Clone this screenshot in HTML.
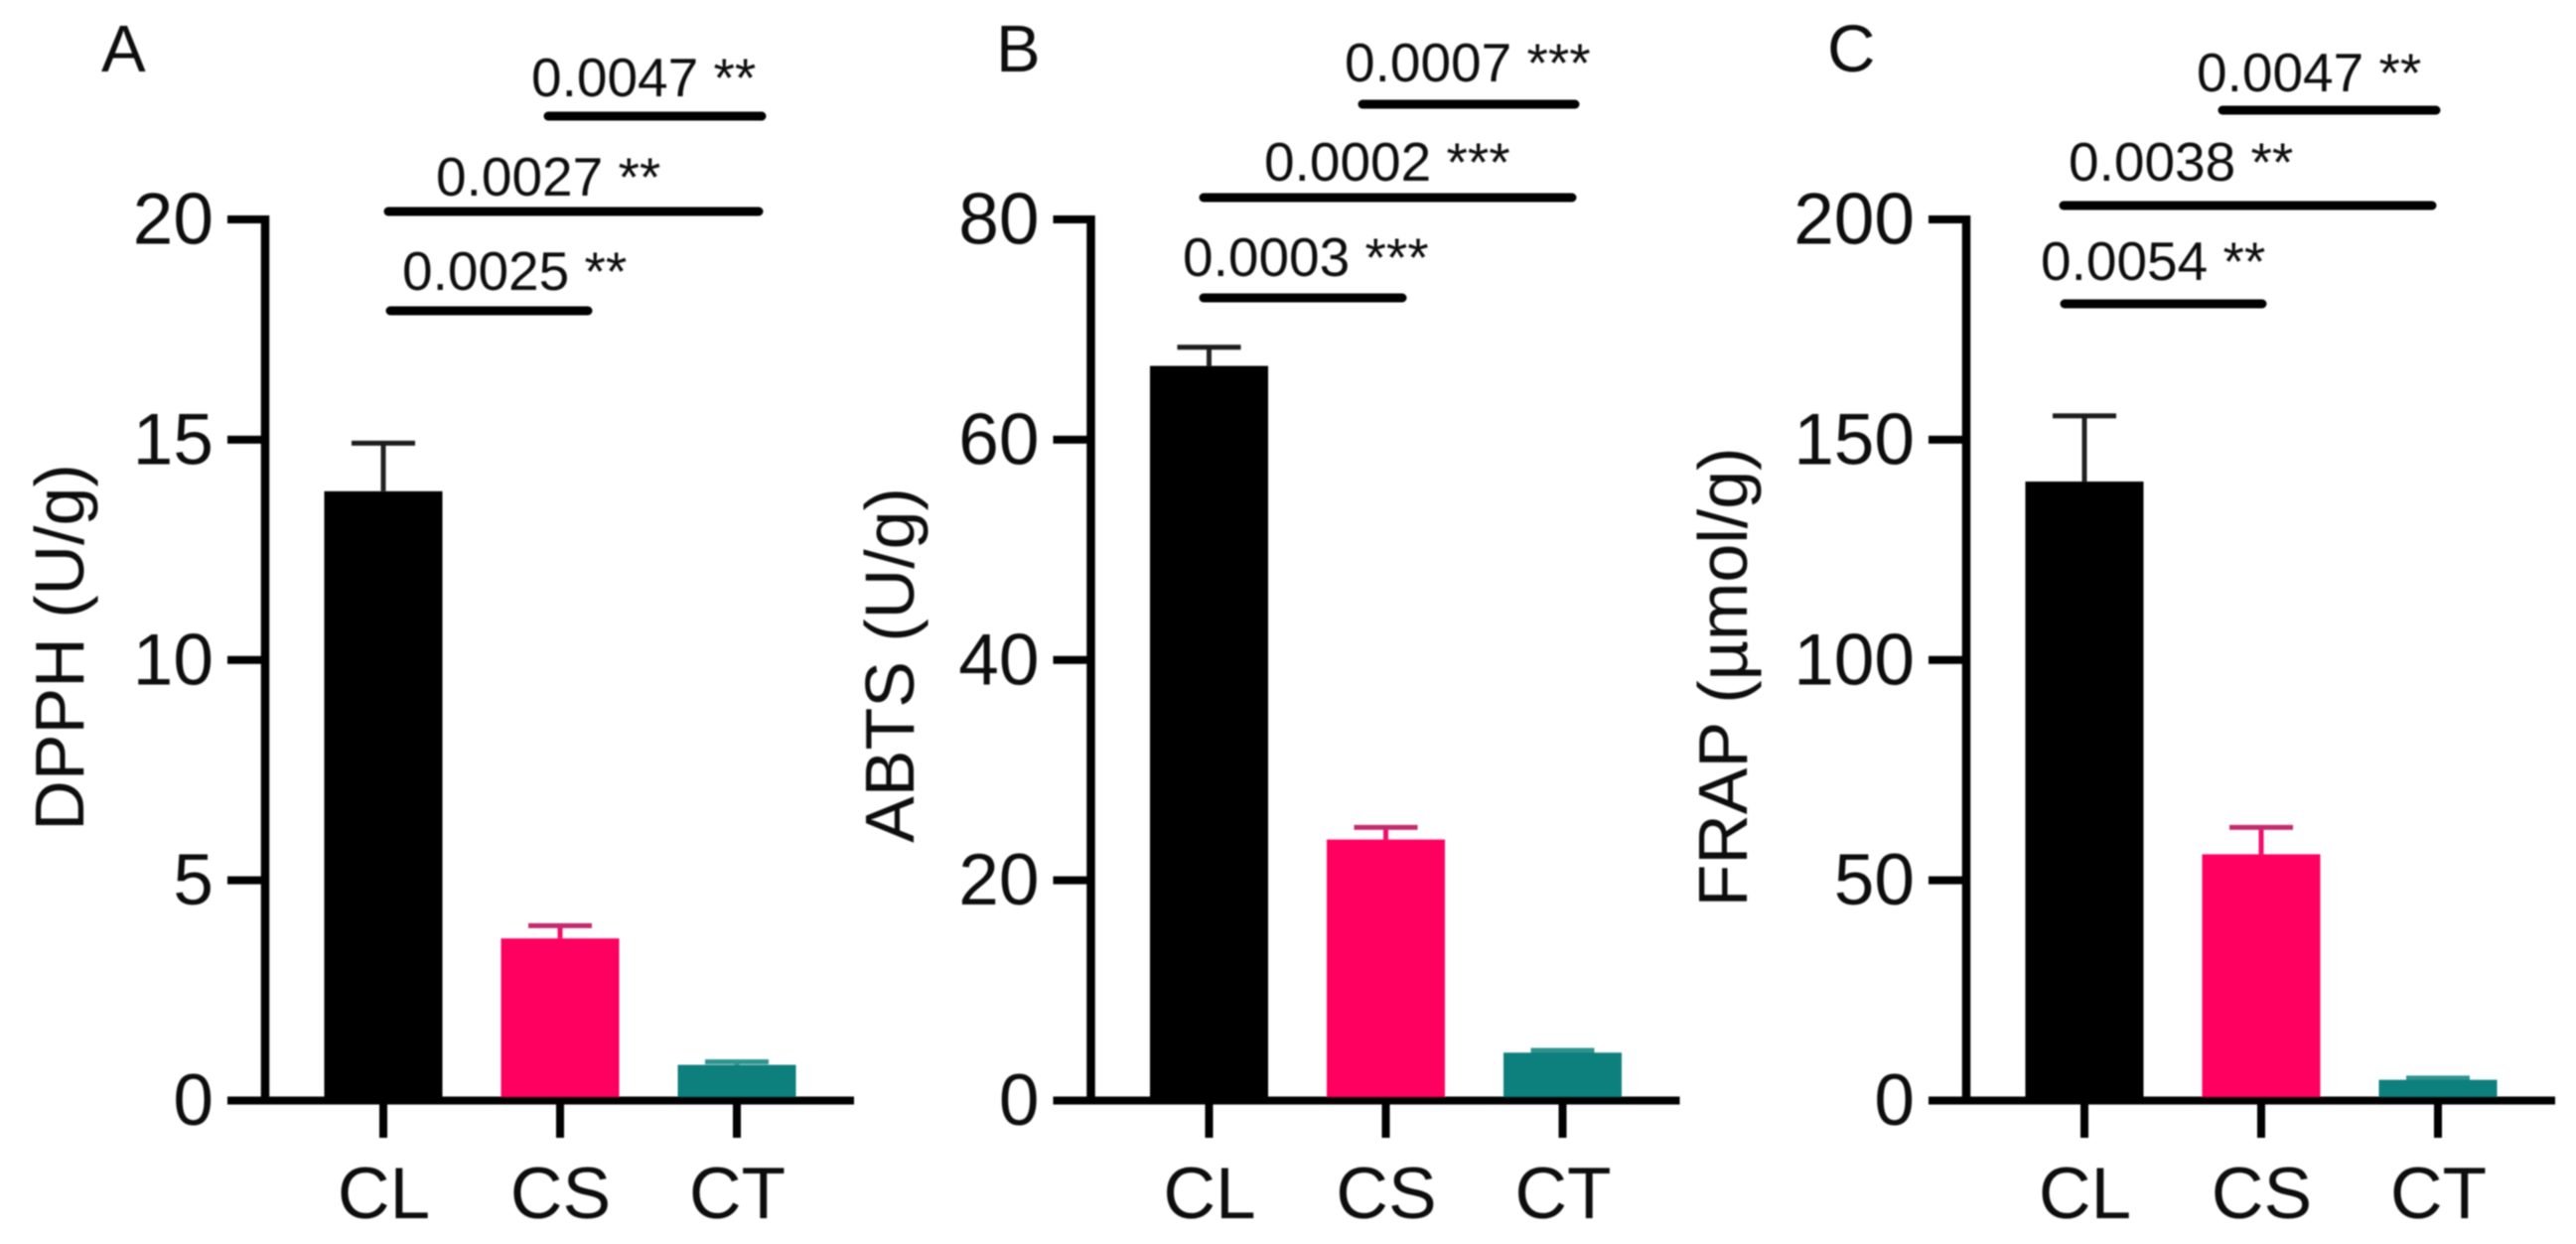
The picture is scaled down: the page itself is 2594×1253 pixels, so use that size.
<!DOCTYPE html>
<html lang="en">
<head>
<meta charset="utf-8">
<title>DPPH, ABTS and FRAP antioxidant activity</title>
<style>
  html, body { margin: 0; padding: 0; background: #fff; }
  svg { display: block; }
  text { font-family: "Liberation Sans", Arial, sans-serif; fill: #111; }
  .sig { font-size: 55px; }
  .letter { font-size: 67px; }
  .ytitle { font-size: 70px; text-anchor: middle; }
  .bracket { stroke: #000; stroke-width: 9; stroke-linecap: round; }
</style>
</head>
<body>
<svg id="chart" width="2594" height="1253" viewBox="0 0 2594 1253" xmlns="http://www.w3.org/2000/svg">
  <defs>
    <filter id="soft" x="-2%" y="-2%" width="104%" height="104%"><feGaussianBlur stdDeviation="0.7"/></filter>
  </defs>
  <rect width="2594" height="1253" fill="#fff"/>
  <g id="plots" filter="url(#soft)">
    <text class="letter" x="102" y="72">A</text>
    <text class="letter" x="1003" y="72">B</text>
    <text class="letter" x="1840" y="72">C</text>

    <text class="ytitle" transform="translate(84,652) rotate(-90)">DPPH (U/g)</text>
    <text class="ytitle" transform="translate(920,670) rotate(-90)">ABTS (U/g)</text>
    <text class="ytitle" transform="translate(1759,682) rotate(-90)">FRAP (µmol/g)</text>

    <line class="bracket" x1="552" y1="117" x2="767" y2="117"/>
    <line class="bracket" x1="391" y1="213" x2="764" y2="213"/>
    <line class="bracket" x1="393" y1="313" x2="592" y2="313"/>
    <text class="sig" x="535" y="97">0.0047 **</text>
    <text class="sig" x="439" y="197">0.0027 **</text>
    <text class="sig" x="405" y="292">0.0025 **</text>

    <line class="bracket" x1="1372" y1="105" x2="1586" y2="105"/>
    <line class="bracket" x1="1212" y1="199" x2="1583" y2="199"/>
    <line class="bracket" x1="1212" y1="300" x2="1412" y2="300"/>
    <text class="sig" x="1354" y="82">0.0007 ***</text>
    <text class="sig" x="1273" y="182">0.0002 ***</text>
    <text class="sig" x="1191" y="278">0.0003 ***</text>

    <line class="bracket" x1="2238" y1="111" x2="2453" y2="111"/>
    <line class="bracket" x1="2078" y1="207" x2="2449" y2="207"/>
    <line class="bracket" x1="2079" y1="306" x2="2278" y2="306"/>
    <text class="sig" x="2212" y="92">0.0047 **</text>
    <text class="sig" x="2083" y="182">0.0038 **</text>
    <text class="sig" x="2055" y="282">0.0054 **</text>
  </g>
</svg>
<script>
const categories = ['CL', 'CS', 'CT'];
const dpphMeans = [13.83, 3.68, 0.81];
const dpphErrors = [1.09, 0.29, 0.07];
const dpphTicks = [0, 5, 10, 15, 20];
const abtsMeans = [66.7, 23.7, 4.35];
const abtsErrors = [1.7, 1.1, 0.2];
const abtsTicks = [0, 20, 40, 60, 80];
const frapMeans = [140.5, 55.9, 4.7];
const frapErrors = [14.9, 6.1, 0.4];
const frapTicks = [0, 50, 100, 150, 200];

const SVG_NS = 'http://www.w3.org/2000/svg';
const plots = document.getElementById('plots');
const barFills = ['#000000', '#ff0060', '#0f7f7c'];
const capStrokes = ['#1a1a1a', '#c22a6e', '#2f9490'];
const stemStrokes = ['#222222', '#f0106a', '#2f9490'];

function add(tag, attrs, parent) {
  const el = document.createElementNS(SVG_NS, tag);
  for (const key in attrs) el.setAttribute(key, attrs[key]);
  parent.appendChild(el);
  return el;
}

function drawPanel(id, axisX, means, errors, ticks) {
  const baseY = 1108.5;
  const topY = 221;
  const yMax = ticks[ticks.length - 1];
  const yScale = function (v) { return baseY - (v / yMax) * (baseY - topY); };
  const xScale = function (i) { return axisX + 119 + i * 178; };
  const barWidth = 119;

  const group = add('g', {}, plots);
  
  

  means.forEach(function (value, i) {
    const cx = xScale(i);
    const top = yScale(value);
    const errTop = yScale(value + errors[i]);

    const stem = add('line', { x1: cx, x2: cx, y1: top, y2: errTop, stroke: stemStrokes[i], 'stroke-width': 5 }, group);
    
    

    const cap = add('line', { x1: cx - 32, x2: cx + 32, y1: errTop, y2: errTop, stroke: capStrokes[i], 'stroke-width': 5 }, group);
    
    

    const bar = add('rect', { x: cx - barWidth / 2, y: top, width: barWidth, height: baseY - top, fill: barFills[i] }, group);
    
    

    const xTick = add('line', { x1: cx, x2: cx, y1: baseY, y2: 1146, stroke: '#000', 'stroke-width': 8 }, group);
    
    

    const label = add('text', { x: cx + 0.5, y: 1227, 'text-anchor': 'middle', 'font-size': 73 }, group);
    label.textContent = categories[i];
    
    
  });

  ticks.forEach(function (tick) {
    const y = yScale(tick);
    const tickLine = add('line', { x1: axisX - 38, x2: axisX, y1: y, y2: y, stroke: '#000', 'stroke-width': 8 }, group);
    
    

    const label = add('text', { x: axisX - 52, y: y + 24.5, 'text-anchor': 'end', 'font-size': 73 }, group);
    label.textContent = String(tick);
    
    
  });

  const yAxis = add('line', { x1: axisX, x2: axisX, y1: topY - 4, y2: baseY, stroke: '#000', 'stroke-width': 8.5 }, group);
  
  

  const xAxis = add('line', { x1: axisX - 38, x2: axisX + 593, y1: baseY, y2: baseY, stroke: '#000', 'stroke-width': 8 }, group);
  
  
}

drawPanel('a', 267, dpphMeans, dpphErrors, dpphTicks);
drawPanel('b', 1098.5, abtsMeans, abtsErrors, abtsTicks);
drawPanel('c', 1980, frapMeans, frapErrors, frapTicks);
</script>
</body>
</html>
